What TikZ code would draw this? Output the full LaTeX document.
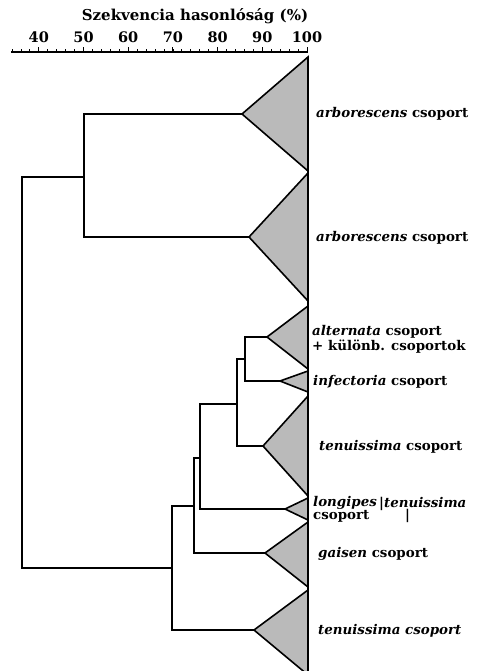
\documentclass[tikz,border=0pt]{standalone}
\usepackage{fontspec}
\setmainfont{DejaVu Serif}
\begin{document}
\begin{tikzpicture}[x=1pt,y=-1pt,
  branch/.style={line width=1.4pt,line join=miter},
  clade/.style={draw,line width=1.6pt,fill=black!27,line join=miter},
  axisline/.style={line width=1.2pt},
  lbl/.style={anchor=base west,inner sep=0pt,font=\fontsize{13.4}{13}\selectfont\bfseries,align=left},
  num/.style={anchor=base,inner sep=0pt,font=\fontsize{14.5}{14}\selectfont\bfseries},
  ttl/.style={anchor=base,inner sep=0pt,font=\fontsize{15}{15}\selectfont\bfseries}]
\useasboundingbox (0,0) rectangle (478,671);

% similarity axis: x(p) = 307 - (100-p)*4.47
\node[ttl] (title) at (195,21) {Szekvencia hasonlóság (\%)};
\draw[axisline] (11,52) -- (307.5,52);
\foreach \p in {34,36,...,100}{
  \draw[line width=0.8pt] ({307-(100-\p)*4.47},52) -- ++(0,-2.5);
}
\foreach \p in {40,50,...,100}{
  \draw[line width=0.9pt] ({307-(100-\p)*4.47},52) -- ++(0,-4.5);
  \node[num] (n\p) at ({307-(100-\p)*4.47},43) {\p};
}

% collapsed clades (apex on the left, base on the 100 % line)
\coordinate (a1) at (242,114);
\coordinate (a2) at (249,237);
\coordinate (a3) at (267,337);
\coordinate (a4) at (280,381);
\coordinate (a5) at (263,446);
\coordinate (a6) at (285,509);
\coordinate (a7) at (265,553);
\coordinate (a8) at (254,630);

\draw[clade] (a1) -- (308,57)  -- (308,171) -- cycle;
\draw[clade] (a2) -- (308,173) -- (308,301) -- cycle;
\draw[clade] (a3) -- (308,306) -- (308,369) -- cycle;
\draw[clade] (a4) -- (308,371) -- (308,392) -- cycle;
\draw[clade] (a5) -- (308,396) -- (308,496) -- cycle;
\draw[clade] (a6) -- (308,498) -- (308,520) -- cycle;
\draw[clade] (a7) -- (308,522) -- (308,587) -- cycle;
\draw[clade] (a8) -- (308,590) -- (308,675) -- cycle;
\draw[line width=1.6pt] (308,57) -- (308,675);

% internal nodes of the tree
\coordinate (j1) at (84,177);
\coordinate (root) at (22,372);
\coordinate (j2) at (172,568);
\coordinate (j3) at (194,506);
\coordinate (j4) at (200,458);
\coordinate (j5) at (237,404);
\coordinate (j6) at (245,359);

\draw[branch] (a1) -| (j1) |- (a2);
\draw[branch] (j1) -| (root) |- (j2);
\draw[branch] (j3) -| (j2) |- (a8);
\draw[branch] (j4) -| (j3) |- (a7);
\draw[branch] (j5) -| (j4) |- (a6);
\draw[branch] (j6) -| (j5) |- (a5);
\draw[branch] (a3) -| (j6) |- (a4);

% clade labels (base anchor of a two-line label is its last line)
\node[lbl] (l1) at (316,118) {\textit{arborescens} csoport};
\node[lbl] (l2) at (316,241) {\textit{arborescens} csoport};
\node[lbl] (l3) at (312,350) {\textit{alternata} csoport\\+ különb. csoportok};
\node[lbl] (l4) at (313,385) {\textit{infectoria} csoport};
\node[lbl] (l5) at (319,450) {\textit{tenuissima} csoport};
\node[lbl] (l6) at (313,519) {\textit{longipes}\\csoport};
\node[lbl] (l6b) at (379,507) {|\textit{tenuissima}};
\node[lbl] (l6c) at (405,519) {|};
\node[lbl] (l7) at (318,557) {\textit{gaisen} csoport};
\node[lbl] (l8) at (318,634) {\textit{tenuissima csoport}};
\end{tikzpicture}
\end{document}
